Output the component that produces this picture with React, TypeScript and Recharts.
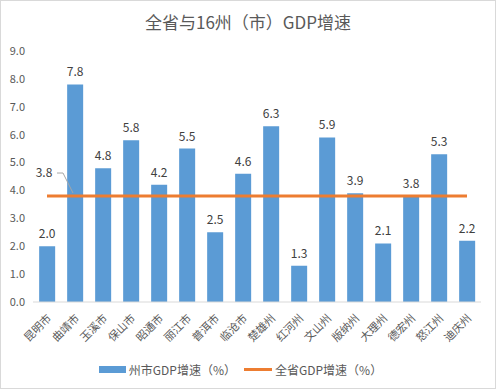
import React from 'react';
import { ComposedChart, Bar, Line, XAxis, YAxis, LabelList, Legend } from 'recharts';

const categories = ['昆明市', '曲靖市', '玉溪市', '保山市', '昭通市', '丽江市', '普洱市', '临沧市', '楚雄州', '红河州', '文山州', '版纳州', '大理州', '德宏州', '怒江州', '迪庆州'];
const cityGrowth = [2.0, 7.8, 4.8, 5.8, 4.2, 5.5, 2.5, 4.6, 6.3, 1.3, 5.9, 3.9, 2.1, 3.8, 5.3, 2.2];
const provinceGrowth = 3.8;
const yTicks = [0, 1, 2, 3, 4, 5, 6, 7, 8, 9];

const data = categories.map((name, i) => ({ name, city: cityGrowth[i], province: provinceGrowth }));

const FONT = '"Noto Sans CJK SC", "Noto Sans", sans-serif';
const TEXT = '#595959';

const RotTick = (props: any) => {
  const { x, y, payload } = props;
  return (
    <text
      x={x + 5}
      y={y + 9}
      transform={`rotate(-45 ${x + 5} ${y + 9})`}
      textAnchor="end"
      fontSize={11}
      fill={TEXT}
      fontFamily={FONT}
    >
      {payload.value}
    </text>
  );
};

const LineLabel = (props: any) => {
  const { x, y, index, value } = props;
  if (index !== 1) return null;
  return (
    <g>
      <path d={`M${x - 18},${y - 23} L${x - 12},${y - 23} L${x - 2},${y - 3}`} stroke="#A6A6A6" fill="none" strokeWidth={1} />
      <text x={x - 31} y={y - 19} textAnchor="middle" fontSize={12} fill="#404040" fontFamily={FONT}>
        {Number(value).toFixed(1)}
      </text>
    </g>
  );
};

const LegendContent = () => (
  <div style={{ display: 'flex', justifyContent: 'center', alignItems: 'center', fontFamily: FONT, fontSize: 12, color: TEXT, marginTop: 9 }}>
    <span style={{ display: 'inline-block', width: 27, height: 7, background: '#5B9BD5', marginRight: 3 }} />
    <span style={{ marginRight: 8 }}>州市GDP增速（%）</span>
    <span style={{ display: 'inline-block', width: 28, height: 3, background: '#ED7D31', marginRight: 3 }} />
    <span>全省GDP增速（%）</span>
  </div>
);

export default function App() {
  return (
    <div style={{ position: 'absolute', left: 0, top: 0, width: 496, height: 389, background: '#fff' }}>
      <div style={{ position: 'absolute', left: 0, top: 0, width: 494, height: 387, border: '1px solid #D9D9D9' }} />
      <div style={{ position: 'absolute', left: 0, top: 9, width: 496, textAlign: 'center', fontFamily: FONT, fontSize: 17, color: TEXT }}>
        全省与16州（市）GDP增速
      </div>
      <div style={{ position: 'absolute', left: 0, top: 0 }}>
        <ComposedChart width={496} height={389} data={data} margin={{ top: 51, right: 15, left: 0, bottom: 0 }} barCategoryGap="22%">
          <XAxis
            dataKey="name"
            interval={0}
            tick={<RotTick />}
            tickLine={false}
            axisLine={{ stroke: '#D9D9D9' }}
            height={50}
          />
          <YAxis
            width={33}
            domain={[0, 9]}
            ticks={yTicks}
            tickFormatter={(v: number) => v.toFixed(1)}
            axisLine={false}
            tickLine={false}
            tick={{ fontSize: 11, fill: TEXT, fontFamily: FONT }}
          />
          <Legend verticalAlign="bottom" height={37} content={<LegendContent />} />
          <Bar dataKey="city" fill="#5B9BD5" isAnimationActive={false}>
            <LabelList dataKey="city" position="top" offset={8} fontSize={12} fill="#404040" fontFamily={FONT} formatter={(v: any) => Number(v).toFixed(1)} />
          </Bar>
          <Line dataKey="province" stroke="#ED7D31" strokeWidth={3} dot={false} type="linear" isAnimationActive={false}>
            <LabelList dataKey="province" content={<LineLabel />} />
          </Line>
        </ComposedChart>
      </div>
    </div>
  );
}
